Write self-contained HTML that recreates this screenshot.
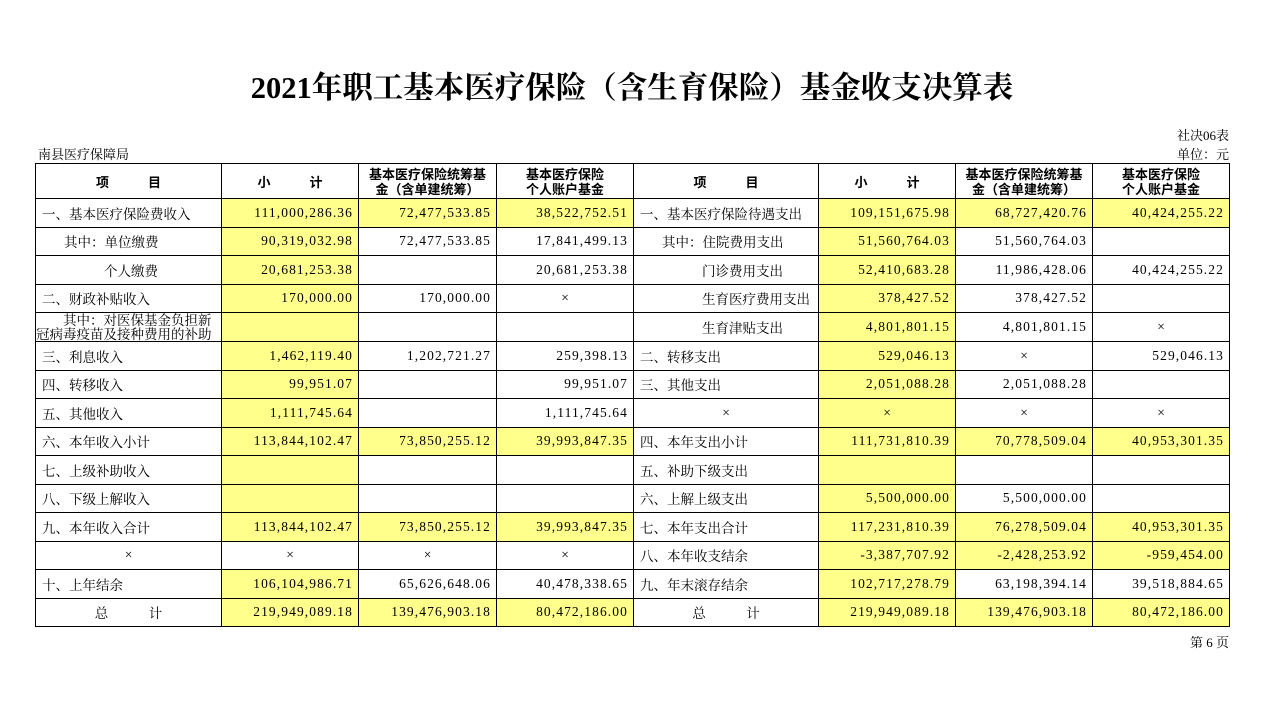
<!DOCTYPE html>
<html><head><meta charset="utf-8"><style>
body{margin:0;width:1274px;height:709px;background:#fff;position:relative;font-family:"Liberation Serif","Noto Serif CJK SC",serif;color:#000;overflow:hidden}
.t{position:absolute;font-size:13px;white-space:nowrap}
h1{position:absolute;left:0;width:1264px;top:63px;margin:0;text-align:center;font-size:30.5px;font-weight:bold;font-family:"Liberation Serif","Noto Serif CJK SC",serif}
table{position:absolute;left:35px;top:163px;border-collapse:collapse;table-layout:fixed;font-size:13.5px}
td{border:1px solid #000;padding:0 6px;height:27.5px;white-space:nowrap;overflow:hidden}
tr.h td{height:34px;font-weight:bold;text-align:center;line-height:15px;font-family:"Noto Sans CJK SC",sans-serif;font-size:13px}
.y{background:#ffff8c}
.r{text-align:right;letter-spacing:1.1px;padding-right:5px}
.c{text-align:center}
.i1{padding-left:28px}
.i2{padding-left:86px}
.i3{padding-left:68px}
.w{line-height:14px;white-space:normal;vertical-align:top;padding-top:0}
</style></head><body>
<h1>2021年职工基本医疗保险（含生育保险）基金收支决算表</h1>
<div class="t" style="right:45px;top:125px">社决06表</div>
<div class="t" style="left:38px;top:144px">南县医疗保障局</div>
<div class="t" style="right:45px;top:144px">单位：元</div>
<table>
<colgroup><col style="width:186px"><col style="width:137px"><col style="width:138px"><col style="width:137px"><col style="width:185px"><col style="width:137px"><col style="width:137px"><col style="width:137px"></colgroup>
<tr class="h"><td>项　　　目</td><td>小　　　计</td><td>基本医疗保险统筹基<br>金（含单建统筹）</td><td>基本医疗保险<br>个人账户基金</td><td>项　　　目</td><td>小　　　计</td><td>基本医疗保险统筹基<br>金（含单建统筹）</td><td>基本医疗保险<br>个人账户基金</td></tr>
<tr><td>一、基本医疗保险费收入</td><td class="y r">111,000,286.36</td><td class="y r">72,477,533.85</td><td class="y r">38,522,752.51</td><td>一、基本医疗保险待遇支出</td><td class="y r">109,151,675.98</td><td class="y r">68,727,420.76</td><td class="y r">40,424,255.22</td></tr>
<tr><td class="i1">其中：单位缴费</td><td class="y r">90,319,032.98</td><td class="r">72,477,533.85</td><td class="r">17,841,499.13</td><td class="i1">其中：住院费用支出</td><td class="y r">51,560,764.03</td><td class="r">51,560,764.03</td><td></td></tr>
<tr><td class="i3">个人缴费</td><td class="y r">20,681,253.38</td><td></td><td class="r">20,681,253.38</td><td class="i3">门诊费用支出</td><td class="y r">52,410,683.28</td><td class="r">11,986,428.06</td><td class="r">40,424,255.22</td></tr>
<tr><td>二、财政补贴收入</td><td class="y r">170,000.00</td><td class="r">170,000.00</td><td class="c">×</td><td class="i3">生育医疗费用支出</td><td class="y r">378,427.52</td><td class="r">378,427.52</td><td></td></tr>
<tr><td class="w" style="padding-left:0"><div style="height:27px;overflow:hidden;padding-top:1px">　　其中：对医保基金负担新<br>冠病毒疫苗及接种费用的补助</div></td><td class="y"></td><td></td><td></td><td class="i3">生育津贴支出</td><td class="y r">4,801,801.15</td><td class="r">4,801,801.15</td><td class="c">×</td></tr>
<tr><td>三、利息收入</td><td class="y r">1,462,119.40</td><td class="r">1,202,721.27</td><td class="r">259,398.13</td><td>二、转移支出</td><td class="y r">529,046.13</td><td class="c">×</td><td class="r">529,046.13</td></tr>
<tr><td>四、转移收入</td><td class="y r">99,951.07</td><td></td><td class="r">99,951.07</td><td>三、其他支出</td><td class="y r">2,051,088.28</td><td class="r">2,051,088.28</td><td></td></tr>
<tr><td>五、其他收入</td><td class="y r">1,111,745.64</td><td></td><td class="r">1,111,745.64</td><td class="c">×</td><td class="y c">×</td><td class="c">×</td><td class="c">×</td></tr>
<tr><td>六、本年收入小计</td><td class="y r">113,844,102.47</td><td class="y r">73,850,255.12</td><td class="y r">39,993,847.35</td><td>四、本年支出小计</td><td class="y r">111,731,810.39</td><td class="y r">70,778,509.04</td><td class="y r">40,953,301.35</td></tr>
<tr><td>七、上级补助收入</td><td class="y"></td><td></td><td></td><td>五、补助下级支出</td><td class="y"></td><td></td><td></td></tr>
<tr><td>八、下级上解收入</td><td class="y"></td><td></td><td></td><td>六、上解上级支出</td><td class="y r">5,500,000.00</td><td class="r">5,500,000.00</td><td></td></tr>
<tr><td>九、本年收入合计</td><td class="y r">113,844,102.47</td><td class="y r">73,850,255.12</td><td class="y r">39,993,847.35</td><td>七、本年支出合计</td><td class="y r">117,231,810.39</td><td class="y r">76,278,509.04</td><td class="y r">40,953,301.35</td></tr>
<tr><td class="c">×</td><td class="c">×</td><td class="c">×</td><td class="c">×</td><td>八、本年收支结余</td><td class="y r">-3,387,707.92</td><td class="y r">-2,428,253.92</td><td class="y r">-959,454.00</td></tr>
<tr><td>十、上年结余</td><td class="y r">106,104,986.71</td><td class="r">65,626,648.06</td><td class="r">40,478,338.65</td><td>九、年末滚存结余</td><td class="y r">102,717,278.79</td><td class="r">63,198,394.14</td><td class="r">39,518,884.65</td></tr>
<tr><td class="c">总　　　计</td><td class="y r">219,949,089.18</td><td class="y r">139,476,903.18</td><td class="y r">80,472,186.00</td><td class="c">总　　　计</td><td class="y r">219,949,089.18</td><td class="y r">139,476,903.18</td><td class="y r">80,472,186.00</td></tr>
</table>
<div class="t" style="right:45px;top:632px">第 6 页</div>
</body></html>
